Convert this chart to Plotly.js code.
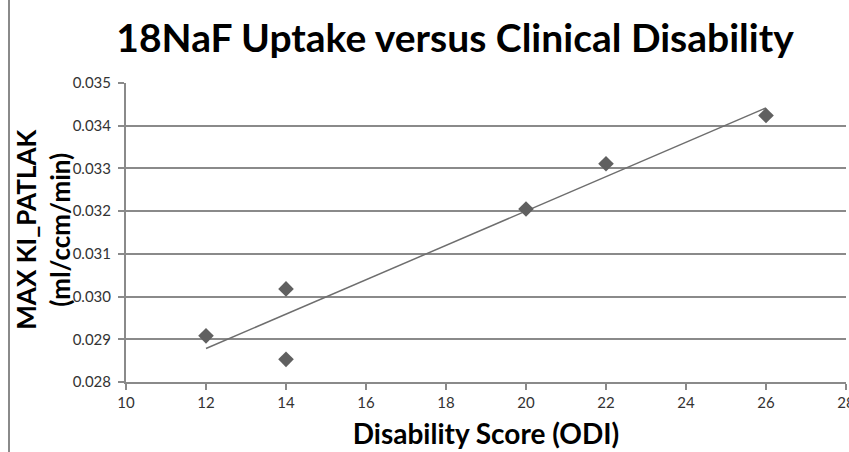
<!DOCTYPE html>
<html><head><meta charset="utf-8">
<script src="https://cdn.plot.ly/plotly-3.0.1.min.js"></script>
<style>html,body{margin:0;padding:0;background:#fff}#chart{width:849px;height:452px}</style>
</head><body><div id="chart"></div>
<script>
var disabilityScore = [12, 14, 14, 20, 22, 26];
var maxKiPatlak = [0.02908, 0.03018, 0.02853, 0.03205, 0.03311, 0.03424];
var yTicks = [0.028, 0.029, 0.030, 0.031, 0.032, 0.033, 0.034, 0.035];
var xTicks = [10, 12, 14, 16, 18, 20, 22, 24, 26, 28];

// linear least-squares trendline from the data
var n = disabilityScore.length, mx = 0, my = 0;
for (var i = 0; i < n; i++) { mx += disabilityScore[i]; my += maxKiPatlak[i]; }
mx /= n; my /= n;
var sxy = 0, sxx = 0;
for (var i = 0; i < n; i++) { sxy += (disabilityScore[i]-mx)*(maxKiPatlak[i]-my); sxx += Math.pow(disabilityScore[i]-mx, 2); }
var slope = sxy/sxx, icpt = my - slope*mx;
var xmin = Math.min.apply(null, disabilityScore), xmax = Math.max.apply(null, disabilityScore);
var trendX = [xmin, xmax], trendY = [icpt + slope*xmin, icpt + slope*xmax];

var font = 'Lato, "Open Sans", sans-serif';
var data = [
  {x: trendX, y: trendY, mode: 'lines', line: {color: '#6e6e6e', width: 1.5}, hoverinfo: 'skip'},
  {x: disabilityScore, y: maxKiPatlak, mode: 'markers',
   marker: {symbol: 'diamond', size: 12, color: '#606060', line: {width: 0}}}
];
var layout = {
  width: 849, height: 452, showlegend: false,
  paper_bgcolor: '#fff', plot_bgcolor: '#fff',
  margin: {l: 126, r: 3, t: 83, b: 70},
  font: {family: font, color: '#333'},
  title: {text: '<b>18NaF Uptake versus Clinical Disability</b>', x: 0.536, xanchor: 'center', y: 0.915, yanchor: 'middle',
          font: {family: font, size: 39, weight: 900, color: '#000'}},
  xaxis: {range: [10, 28], tickvals: xTicks, ticktext: xTicks.map(String), showgrid: false, zeroline: false,
          showline: true, linecolor: '#8a8a8a', linewidth: 2, ticks: 'outside', ticklen: 6, tickcolor: '#8a8a8a', tickwidth: 2,
          tickfont: {size: 15, color: '#333'}, ticklabeloverflow: 'allow',
          title: {text: '<b>Disability Score (ODI)</b>', standoff: 14, font: {family: font, size: 28, weight: 900, color: '#000'}}},
  yaxis: {range: [0.028, 0.035], tickvals: yTicks, ticktext: yTicks.map(function(v){return v.toFixed(3);}),
          showgrid: true, gridcolor: '#8a8a8a', gridwidth: 2, zeroline: false,
          showline: true, linecolor: '#8a8a8a', linewidth: 2, ticks: 'outside', ticklen: 6, tickcolor: '#8a8a8a', tickwidth: 2,
          tickfont: {size: 15, color: '#333'}, ticklabelstandoff: 4},
  annotations: [{text: '<b>MAX KI_PATLAK<br>(ml/ccm/min)</b>', textangle: -90, xref: 'paper', yref: 'paper',
                 x: -0.1155, y: 0.512, xanchor: 'center', yanchor: 'middle', showarrow: false,
                 font: {family: font, size: 26, weight: 900, color: '#000'}}],
  shapes: [{type: 'line', xref: 'paper', yref: 'paper', x0: -0.1625, x1: -0.1625, y0: -0.25, y1: 1.3,
            line: {color: '#8a8a8a', width: 2}}]
};
Plotly.newPlot('chart', data, layout, {displayModeBar: false, staticPlot: true});
</script></body></html>
